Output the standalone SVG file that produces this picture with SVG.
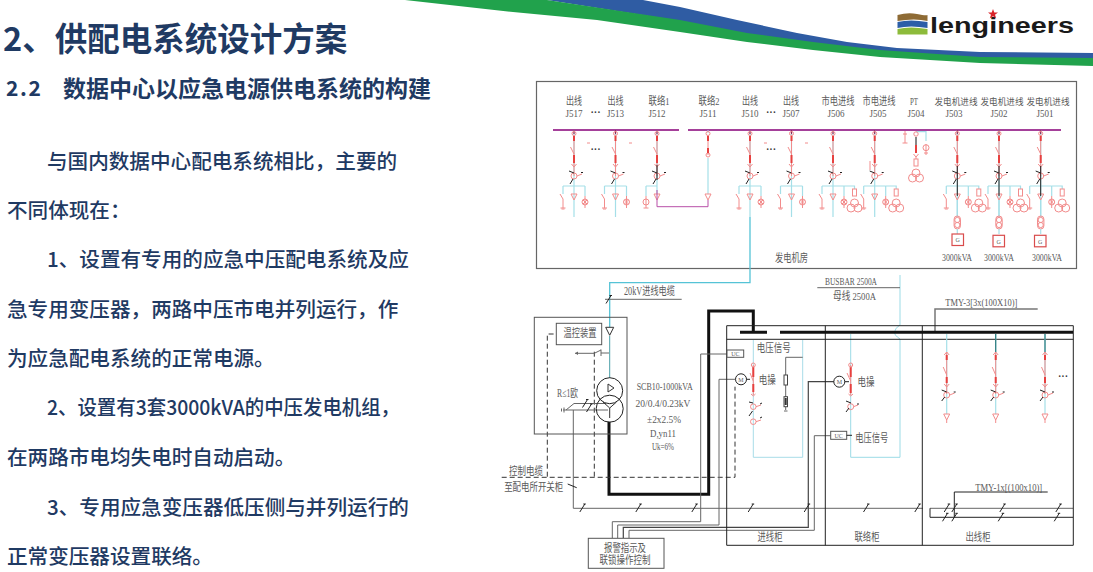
<svg xmlns="http://www.w3.org/2000/svg" width="1093" height="572" viewBox="0 0 1093 572">
<style>
text{font-family:"Liberation Serif","Noto Sans CJK SC",serif;fill:#5a5a5a}
.b{font-family:"Noto Sans CJK SC","Liberation Sans",sans-serif;fill:#1f3a63}
.s{font-size:11px;text-anchor:middle}
.n{font-size:8.800px;text-anchor:middle}
.m{font-size:11.500px;text-anchor:middle}
.u{font-size:6px;text-anchor:middle}
.dots{font-size:10px;text-anchor:middle;font-weight:700;fill:#333}
.r{fill:none;stroke:#f28c8c;stroke-width:1}
.rd{fill:none;stroke:#e8403f;stroke-width:2}
.c{fill:none;stroke:#a5dfe8;stroke-width:1.200}
.k{fill:none;stroke:#222;stroke-width:1}
.g{fill:none;stroke:#666;stroke-width:1}
.d{fill:none;stroke:#333;stroke-width:1;stroke-dasharray:5 3}
</style>
<defs>
<g id="brk">
<path class="c" d="M0 0V56"/>
<path d="M0 0V4" stroke="#8a2a5a" stroke-width="1.200"/>
<path class="r" d="M0 5V46M-3.500 17L0 24"/><path class="rd" d="M0 6V11M0 25V33"/>
<circle class="r" cx="0" cy="3.500" r="2"/><path class="r" d="M-2.500 34L0 37L2.500 34"/>
<circle class="r" cx="0" cy="46" r="3"/><path class="r" d="M3 46L8 44"/>
<path class="k" d="M-5 41L0 43M-4 54L-1 49M7 42.500L9 42.500"/>
</g>
<g id="legs">
<path class="c" d="M-11 56H11M-11 56V64M11 56V66M0 56V87"/>
<path class="r" d="M-11 69L-14 64M-11 69V78M-13.500 78H-8.500M-3 64H3L0 70ZM11 66V78"/>
<circle class="r" cx="11" cy="72" r="3"/>
<path class="r" d="M9 70L13 74M13 70L9 74"/>
<path class="r" d="M-9.500 79H-12.500"/>
</g>
<g id="feed"><use href="#brk"/><use href="#legs"/></g>
<g id="tf3"><circle class="r" cx="0" cy="-3" r="4"/><circle class="r" cx="-3.500" cy="2" r="4"/><circle class="r" cx="3.500" cy="2" r="4"/></g>
<g id="pttail">
<path class="c" d="M11 56H21.500V59"/>
<rect class="r" x="19.500" y="59" width="4" height="7"/>
<use href="#tf3" x="21.500" y="76"/>
</g>
<g id="gen">
<use href="#brk"/><use href="#legs"/><use href="#pttail"/>
<path d="M0 36V66" stroke="#222" stroke-width="1"/>
<path class="c" d="M0 70V86"/>
<rect class="r" x="-3.200" y="86" width="6.400" height="13" rx="3.200"/>
<circle class="r" cx="0" cy="90" r="2.600"/><circle class="r" cx="0" cy="95" r="2.600"/>
<path class="c" d="M0 99V104"/>
</g>
<g id="out">
<path class="c" d="M0 0V80"/>
<path class="r" d="M0 18V60M-2.500 21L0 18L2.500 21M-3.500 33L0 41M-2.500 50L0 53L2.500 50M-3 80H3L0 86ZM0 86V89"/>
<path class="rd" d="M0 21V26M0 43V49"/>
<circle class="r" cx="0" cy="61" r="3"/><path class="r" d="M3 61L8 59"/>
<path class="k" d="M-5 56L0 58M-5 67L-2 63M7 58L9 58"/>
</g>
<path id="t" d="M-2.500 4L2.500 -4M1 -4H3.500" fill="none" stroke="#222"/>
</defs>
<rect width="1093" height="572" fill="#fff"/>

<g id="banner">
<polygon fill="#2f5ca3" points="547,0 643,0 680,7 737,20 797,33 847,42 897,48 980,52 1093,53 1093,59 980,58 880,51 813,43 747,34 680,21"/>
<polygon fill="#21a24c" points="405,0 547,0 680,20 747,33 813,42 880,50 980,57 1093,58 1093,66 980,63 880,57 813,50 747,42 680,32 597,20 513,12"/>
</g>
<g id="logo">
<path d="M897.500 15Q908 12 917 14T927.500 15V21Q915 18 897.500 21Z" fill="#8e6b35"/>
<path d="M897.500 22Q910 19 927.500 22V28Q910 25 897.500 28Z" fill="#2c5ea8"/>
<path d="M897.500 29Q910 26 927.500 29V34.500H897.500Z" fill="#8dbb3b"/>
<text x="930" y="33" style="font-family:'Liberation Sans',sans-serif;font-weight:700;font-size:22.500px;fill:#1a1a1a" textLength="144" lengthAdjust="spacingAndGlyphs">lengineers</text>
<path d="M993 9L994.300 12.600H998L995 14.800L996.200 18.300L993 16.200L989.800 18.300L991 14.800L988 12.600H991.700Z" fill="#d8232a"/>
</g>

<g id="heading">
<text class="b" x="3" y="51" font-size="32.500" font-weight="700">2、供配电系统设计方案</text>
<text class="b" x="6" y="96" font-size="21" font-weight="700" textLength="35" lengthAdjust="spacing">2.2</text>
<text class="b" x="63" y="96.500" font-size="23" font-weight="700">数据中心以应急电源供电系统的构建</text>
</g>
<g id="body" font-size="20.600" font-weight="500">
<text class="b" x="47" y="168.500">与国内数据中心配电系统相比，主要的</text>
<text class="b" x="7" y="218">不同体现在：</text>
<text class="b" x="47" y="267">1、设置有专用的应急中压配电系统及应</text>
<text class="b" x="7" y="317">急专用变压器，两路中压市电并列运行，作</text>
<text class="b" x="7" y="366">为应急配电系统的正常电源。</text>
<text class="b" x="47" y="415" textLength="353" lengthAdjust="spacingAndGlyphs">2、设置有3套3000kVA的中压发电机组，</text>
<text class="b" x="7" y="465">在两路市电均失电时自动启动。</text>
<text class="b" x="47" y="515">3、专用应急变压器低压侧与并列运行的</text>
<text class="b" x="7" y="564">正常变压器设置联络。</text>
</g>

<g id="generator-room">
<rect x="536.500" y="81.500" width="540" height="187" fill="#fff" stroke="#666" stroke-width="1.200"/>
<path d="M553 130H679M688 130H1061" stroke="#a5409a" stroke-width="1.800" fill="none"/>
<text class="s" x="574" y="105" textLength="16" lengthAdjust="spacingAndGlyphs">出线</text><text class="s" x="574" y="117" textLength="17" lengthAdjust="spacingAndGlyphs">J517</text>
<text class="s" x="615.500" y="105" textLength="16" lengthAdjust="spacingAndGlyphs">出线</text><text class="s" x="615.500" y="117" textLength="17" lengthAdjust="spacingAndGlyphs">J513</text>
<text class="s" x="659" y="105" textLength="21" lengthAdjust="spacingAndGlyphs">联络1</text><text class="s" x="657" y="117" textLength="17" lengthAdjust="spacingAndGlyphs">J512</text>
<text class="s" x="709" y="105" textLength="21" lengthAdjust="spacingAndGlyphs">联络2</text><text class="s" x="708" y="117" textLength="17" lengthAdjust="spacingAndGlyphs">J511</text>
<text class="s" x="750" y="105" textLength="16" lengthAdjust="spacingAndGlyphs">出线</text><text class="s" x="750" y="117" textLength="17" lengthAdjust="spacingAndGlyphs">J510</text>
<text class="s" x="791" y="105" textLength="16" lengthAdjust="spacingAndGlyphs">出线</text><text class="s" x="791" y="117" textLength="17" lengthAdjust="spacingAndGlyphs">J507</text>
<text class="s" x="838" y="105" textLength="33" lengthAdjust="spacingAndGlyphs">市电进线</text><text class="s" x="836" y="117" textLength="17" lengthAdjust="spacingAndGlyphs">J506</text>
<text class="s" x="879" y="105" textLength="33" lengthAdjust="spacingAndGlyphs">市电进线</text><text class="s" x="878" y="117" textLength="17" lengthAdjust="spacingAndGlyphs">J505</text>
<text class="s" x="914" y="105" textLength="8" lengthAdjust="spacingAndGlyphs">PT</text><text class="s" x="916" y="117" textLength="17" lengthAdjust="spacingAndGlyphs">J504</text>
<text class="n" x="956" y="104.500" textLength="43" lengthAdjust="spacingAndGlyphs">发电机进线</text><text class="s" x="954" y="117" textLength="17" lengthAdjust="spacingAndGlyphs">J503</text>
<text class="n" x="1002" y="104.500" textLength="43" lengthAdjust="spacingAndGlyphs">发电机进线</text><text class="s" x="999" y="117" textLength="17" lengthAdjust="spacingAndGlyphs">J502</text>
<text class="n" x="1048" y="104.500" textLength="43" lengthAdjust="spacingAndGlyphs">发电机进线</text><text class="s" x="1045" y="117" textLength="17" lengthAdjust="spacingAndGlyphs">J501</text>
<text class="m" x="791.500" y="261.500" textLength="33" lengthAdjust="spacingAndGlyphs">发电机房</text>
<text class="s" x="957" y="261" textLength="30" lengthAdjust="spacingAndGlyphs">3000kVA</text><text class="s" x="999" y="261" textLength="30" lengthAdjust="spacingAndGlyphs">3000kVA</text><text class="s" x="1047" y="261" textLength="30" lengthAdjust="spacingAndGlyphs">3000kVA</text>
<text class="dots" x="595.500" y="116">···</text><text class="dots" x="771" y="116">···</text>
<text class="dots" x="595.500" y="153">···</text><text class="dots" x="771" y="153">···</text>
<path class="r" d="M587 143H590M629 143H632M764 143H767M805 143H808"/>
<use href="#feed" x="574" y="130"/><use href="#feed" x="615.500" y="130"/>
<g transform="translate(657 130)"><use href="#brk"/><path d="M0 35V50" stroke="#222"/><path class="c" d="M-11 56H0M-11 56V66M0 56V64"/><path class="r" d="M-3 64H3L0 70ZM-11 66V78M-13.500 78H-8.500"/><circle class="r" cx="-11" cy="72" r="3"/></g>
<g transform="translate(708 130)"><path class="c" d="M0 28V64"/><path d="M0 0V3" stroke="#a5dfe8"/><path class="r" d="M0 5V25M-3 64H3L0 70Z"/><circle class="r" cx="0" cy="3.500" r="2"/><circle class="r" cx="0" cy="25" r="2"/><path class="rd" d="M0 6V11M0 18V23"/></g>
<path d="M657 190V206.700H708V200" fill="none" stroke="#b84fa8" stroke-width="1"/>
<use href="#feed" x="750" y="130"/><use href="#feed" x="791.500" y="130"/>
<use href="#feed" x="833" y="130"/><use href="#pttail" x="833" y="130"/>
<use href="#feed" x="874.700" y="130"/><use href="#pttail" x="874.700" y="130"/>
<path class="r" d="M870 161L870 170"/>
<path class="r" d="M905 131V143M902.500 143H907.500M903 134H907"/>
<path class="c" d="M916 131.700H926V141"/>
<circle class="r" cx="916" cy="134" r="2.200"/>
<path d="M916 137V145" stroke="#888" stroke-width="2"/><path class="rd" d="M916 145V153"/>
<path class="r" d="M913.500 154L916 157L918.500 154M916 157V159"/>
<rect class="r" x="914" y="159" width="4" height="7"/><use href="#tf3" x="916" y="176"/>
<circle class="r" cx="926" cy="147.700" r="3"/><path class="r" d="M926 144V155M924 153H928"/>
<use href="#gen" x="957.300" y="130"/><use href="#gen" x="999" y="130"/><use href="#gen" x="1040.700" y="130"/>
<g fill="#fff" stroke="#d94c4c" stroke-width="1.200"><rect x="952" y="234" width="11.500" height="11.500"/><rect x="993" y="235.300" width="11.500" height="11.500"/><rect x="1034.500" y="235.300" width="11.500" height="11.500"/></g>
<text class="u" x="957.700" y="242">G</text><text class="u" x="998.700" y="243.500">G</text><text class="u" x="1040.200" y="243.500">G</text>
</g>

<g id="connectors" fill="none">
<path d="M750 217V282.700H609.700V327" stroke="#55c3d6" stroke-width="1.300"/>
<path d="M605 299.300H681.700" class="g"/><use href="#t" x="608.500" y="299.500"/>
<path d="M609.700 336V378" stroke="#4b9fa8"/>
<path d="M609 421.700V494.300H708.700V311H753.300V332" stroke="#111" stroke-width="3"/>
<path d="M547.300 476.700V334H556M594.300 476.700V351.700" class="d"/>
<path d="M501.700 477.300H735V386.700" class="d" stroke-dasharray="6 3"/>
<path d="M573.300 410V508.300H923M930 508.300H1073" class="g"/>
<path d="M563 410H608M566 410L574 403.500H606" class="g"/>
<path d="M564 407.500V412.500M561.500 408.500V411.500" class="g"/>
<path d="M575 353.300H594.300M594.300 353.300L601 350M601 349.500V356M601 353H609" class="g"/>
<path d="M575 353.300L578 351.500V355Z" fill="#666"/>
<path d="M727 354H700.700V521.700H612.300V538.300" class="g"/>
<path d="M735.500 379.300H719V525H617.700V538.300" class="g"/>
<path d="M623.300 538.300V527.300H808.300V381.700H834" stroke="#444" stroke-width="1.200"/>
<path d="M629 538.300V530.300H814.300V435.700H830.700" class="g"/>
<path d="M930 508.300V517.300H1073" class="k"/>
<path d="M954.300 517V492H1047.700" class="k"/>
<path d="M753.300 340V457.300H802.700V340" stroke="#a8dce8"/>
<path d="M802.700 357.300H785.700V375M785.700 385V397M785.700 407V410" class="g"/>
<path d="M784 411H787.500" class="g"/>
<path d="M850.700 334V457.300H900V339Q894 335 894.500 332Q895 328 900 325V275" stroke="#9cdbe6"/>
<path d="M817.300 287.700H900" class="g"/>
<path d="M935 331V309H1037.700" stroke="#777" stroke-width="1.500"/>
<use href="#t" x="582.300" y="508"/><use href="#t" x="638.300" y="508"/><use href="#t" x="694.300" y="508"/><use href="#t" x="750.700" y="508"/><use href="#t" x="806.700" y="508"/><use href="#t" x="866" y="508"/><use href="#t" x="917.300" y="508"/><use href="#t" x="946.700" y="508"/><use href="#t" x="1002.300" y="508"/><use href="#t" x="1058.300" y="508"/>
<use href="#t" x="945" y="517.300"/><use href="#t" x="1000.700" y="517.300"/><use href="#t" x="1056.700" y="517.300"/>
<use href="#t" x="954.300" y="508"/><use href="#t" x="954.300" y="517.300"/>
<use href="#t" x="585" y="403.500"/><use href="#t" x="589" y="408"/>
</g>

<g id="transformer">
<rect x="534.300" y="317.300" width="92.700" height="116.700" fill="none" stroke="#555"/>
<rect x="556.300" y="323.300" width="45.400" height="21.400" fill="#fff" stroke="#555"/>
<text class="m" x="580" y="337" textLength="33" lengthAdjust="spacingAndGlyphs">温控装置</text>
<path d="M605.700 327.300H613.700L609.700 335.300Z" fill="#fff" stroke="#333"/>
<circle cx="609.700" cy="390.700" r="13" fill="none" stroke="#222"/><circle cx="609.700" cy="408.700" r="13.500" fill="none" stroke="#222"/>
<path d="M608 384V392L614 388ZM603 402L609.700 408L616.500 402M609.700 408V418" fill="none" stroke="#333"/>
<text class="m" x="567.500" y="397" textLength="21" lengthAdjust="spacingAndGlyphs">R≤1欧</text>
<g font-size="11" text-anchor="middle">
<text x="664.700" y="390" textLength="56" lengthAdjust="spacingAndGlyphs">SCB10-1000kVA</text><text x="663" y="406.500" textLength="55" lengthAdjust="spacingAndGlyphs">20/0.4/0.23kV</text><text x="664" y="423" textLength="34" lengthAdjust="spacingAndGlyphs">±2x2.5%</text><text x="663" y="436.500" textLength="26" lengthAdjust="spacingAndGlyphs">D,yn11</text><text x="663" y="449.500" textLength="22" lengthAdjust="spacingAndGlyphs">Uk=6%</text></g>
<text class="m" x="649.500" y="295" textLength="51" lengthAdjust="spacingAndGlyphs">20kV进线电缆</text>
<text class="m" x="526" y="475" textLength="34" lengthAdjust="spacingAndGlyphs">控制电缆</text><text class="m" x="533.700" y="491" textLength="59" lengthAdjust="spacingAndGlyphs">至配电所开关柜</text>
<path class="k" d="M567.700 484L576.700 487.700"/>
</g>

<g id="panels" fill="none">
<path d="M726.700 325.700H1073.300V545.300H726.700ZM825.300 325.700V545.300M922.300 325.700V545.300M726.700 339.300H1073.300" stroke="#222"/>
<path d="M740 332.300H767M780 332.300H1073" stroke="#111" stroke-width="3"/>
<rect x="727" y="350" width="16.700" height="7.300" fill="#fff" stroke="#555"/><text class="u" x="735.300" y="356">UC</text>
<circle cx="741" cy="379.300" r="5.500" fill="#fff" stroke="#222"/><text class="u" x="741" y="381.500">M</text>
<path d="M746.500 379.300H750" class="k"/>
<circle cx="839.300" cy="381.700" r="5.500" fill="#fff" stroke="#222"/><text class="u" x="839.300" y="384">M</text>
<path d="M844.800 381.700H849" class="k"/>
<rect x="830.700" y="431.300" width="16" height="8" fill="#fff" stroke="#555"/><text class="u" x="838.700" y="437.800">UC</text>
<path d="M846.700 435.300H852" class="k"/>
<rect x="784" y="375" width="3.500" height="10" stroke="#444"/><rect x="784" y="396.700" width="3.500" height="10" stroke="#444"/>
<path d="M785.700 398V405" stroke="#333" stroke-width="2"/>
</g>
<g id="incoming-breaker" fill="none">
<path class="r" d="M753.300 365V395M750 373L753.300 381M751 394L753.300 396L755.500 394"/>
<path class="rd" d="M753.300 367V377M753.300 384V392"/>
<circle class="r" cx="753.300" cy="365" r="2"/>
<circle class="r" cx="753.300" cy="406.700" r="2.800"/><circle class="r" cx="753.300" cy="421.700" r="2.800"/>
<path class="r" d="M756 406.700L761 405M756 421.700L761 420"/>
<path class="k" d="M749 402L753 403M749 416L752.500 411M760 404L762 403M760 418L762 417"/>
</g>
<g id="tie-breaker" fill="none">
<path class="r" d="M850.700 365V395M847 373L850.700 381M848.500 394L850.700 396L853 394"/>
<path class="rd" d="M850.700 367V377M850.700 384V393"/>
<circle class="r" cx="850.700" cy="365" r="2"/>
<circle class="r" cx="850.700" cy="406.700" r="3"/><path class="r" d="M853.500 406.700L858 405"/>
<path class="k" d="M846 401L851 403M846 412L849 408M857 404L859 404"/>
</g>
<use href="#out" x="946.700" y="334"/><use href="#out" x="995.700" y="334"/><use href="#out" x="1045" y="334"/>
<path d="M995.700 334V352M1045 334V352" stroke="#2c7a7d" stroke-width="1.200"/>
<g id="cabinet-labels">
<text class="m" x="773.800" y="351.500" textLength="34" lengthAdjust="spacingAndGlyphs">电压信号</text><text class="m" x="767.300" y="384" textLength="17" lengthAdjust="spacingAndGlyphs">电操</text><text class="m" x="866" y="386" textLength="17" lengthAdjust="spacingAndGlyphs">电操</text><text class="m" x="871.700" y="442" textLength="33" lengthAdjust="spacingAndGlyphs">电压信号</text>
<text class="m" x="770" y="541" textLength="25" lengthAdjust="spacingAndGlyphs">进线柜</text><text class="m" x="867" y="541" textLength="25" lengthAdjust="spacingAndGlyphs">联络柜</text><text class="m" x="978" y="541" textLength="25" lengthAdjust="spacingAndGlyphs">出线柜</text>
<text class="s" x="851" y="285" textLength="52" lengthAdjust="spacingAndGlyphs">BUSBAR 2500A</text><text class="s" x="854.500" y="300" textLength="43" lengthAdjust="spacingAndGlyphs">母线 2500A</text>
<text class="s" x="981.300" y="306" textLength="72" lengthAdjust="spacingAndGlyphs">TMY-3[3x(100X10)]</text><text class="s" x="1008.700" y="490.500" textLength="67" lengthAdjust="spacingAndGlyphs">TMY-1x[(100x10)]</text>
<text class="dots" x="1063" y="380">···</text>
</g>
<g id="alarm">
<rect x="588.300" y="538.300" width="75.700" height="30" fill="#fff" stroke="#555"/>
<text class="m" x="625" y="551.500" textLength="42" lengthAdjust="spacingAndGlyphs">报警指示及</text><text class="m" x="625" y="563.500" textLength="51" lengthAdjust="spacingAndGlyphs">联锁操作控制</text>
</g>
</svg>
